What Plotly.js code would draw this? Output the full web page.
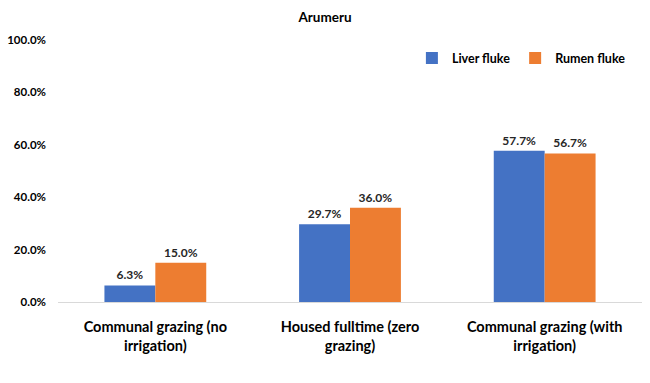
<!DOCTYPE html>
<html><head><meta charset="utf-8">
<script src="https://cdn.plot.ly/plotly-3.0.1.min.js"></script>
<style>body{margin:0;background:#fff}#c{width:650px;height:383px}</style>
</head><body><div id="c"></div>
<script>
const categories = ["Communal grazing (no<br>irrigation)", "Housed fulltime (zero<br>grazing)", "Communal grazing (with<br>irrigation)"];
const liverFluke = [6.3, 29.7, 57.7];
const rumenFluke = [15.0, 36.0, 56.7];
const tickVals = [0, 20, 40, 60, 80, 100];
const tickText = ["0.0%", "20.0%", "40.0%", "60.0%", "80.0%", "100.0%"];

const F = "Lato, 'Open Sans', sans-serif";
const mk = (name, y, color) => ({
  type: "bar", name, x: categories, y,
  marker: {color},
  text: y.map(v => v.toFixed(1) + "%"),
  textposition: "outside",
  textfont: {family: F, size: 12, color: "#262626", weight: 700},
  cliponaxis: false
});
Plotly.newPlot("c", [
  mk("Liver fluke", liverFluke, "#4472C4"),
  mk("Rumen fluke", rumenFluke, "#ED7D31")
], {
  width: 650, height: 383,
  margin: {l: 58, r: 8, t: 40, b: 81, autoexpand: false},
  paper_bgcolor: "#fff", plot_bgcolor: "#fff",
  barmode: "group", bargap: 0.477, bargroupgap: 0,
  title: {text: "<b>Arumeru</b>", x: 0.5, xanchor: "center", y: 0.955, yanchor: "middle",
          font: {family: F, size: 13.5, color: "#000"}},
  xaxis: {tickfont: {family: F, size: 14.5, color: "#000", weight: 700}, automargin: false,
          showline: true, linecolor: "#d9d9d9", linewidth: 1,
          ticks: "outside", ticklen: 12, tickcolor: "rgba(0,0,0,0)", fixedrange: true},
  yaxis: {range: [0, 100], tickvals: tickVals, ticktext: tickText, showgrid: false, automargin: false,
          zeroline: false, showline: false, ticklabelstandoff: 11,
          tickfont: {family: F, size: 11.5, color: "#000", weight: 700}, ticklen: 0, ticks: ""},
  legend: {orientation: "h", x: 0.606, y: 0.93, xanchor: "left", yanchor: "middle",
           font: {family: F, size: 12.5, color: "#000", weight: 700}, itemwidth: 30, traceorder: "normal"},
  showlegend: true
}, {displayModeBar: false, staticPlot: true});
</script></body></html>
